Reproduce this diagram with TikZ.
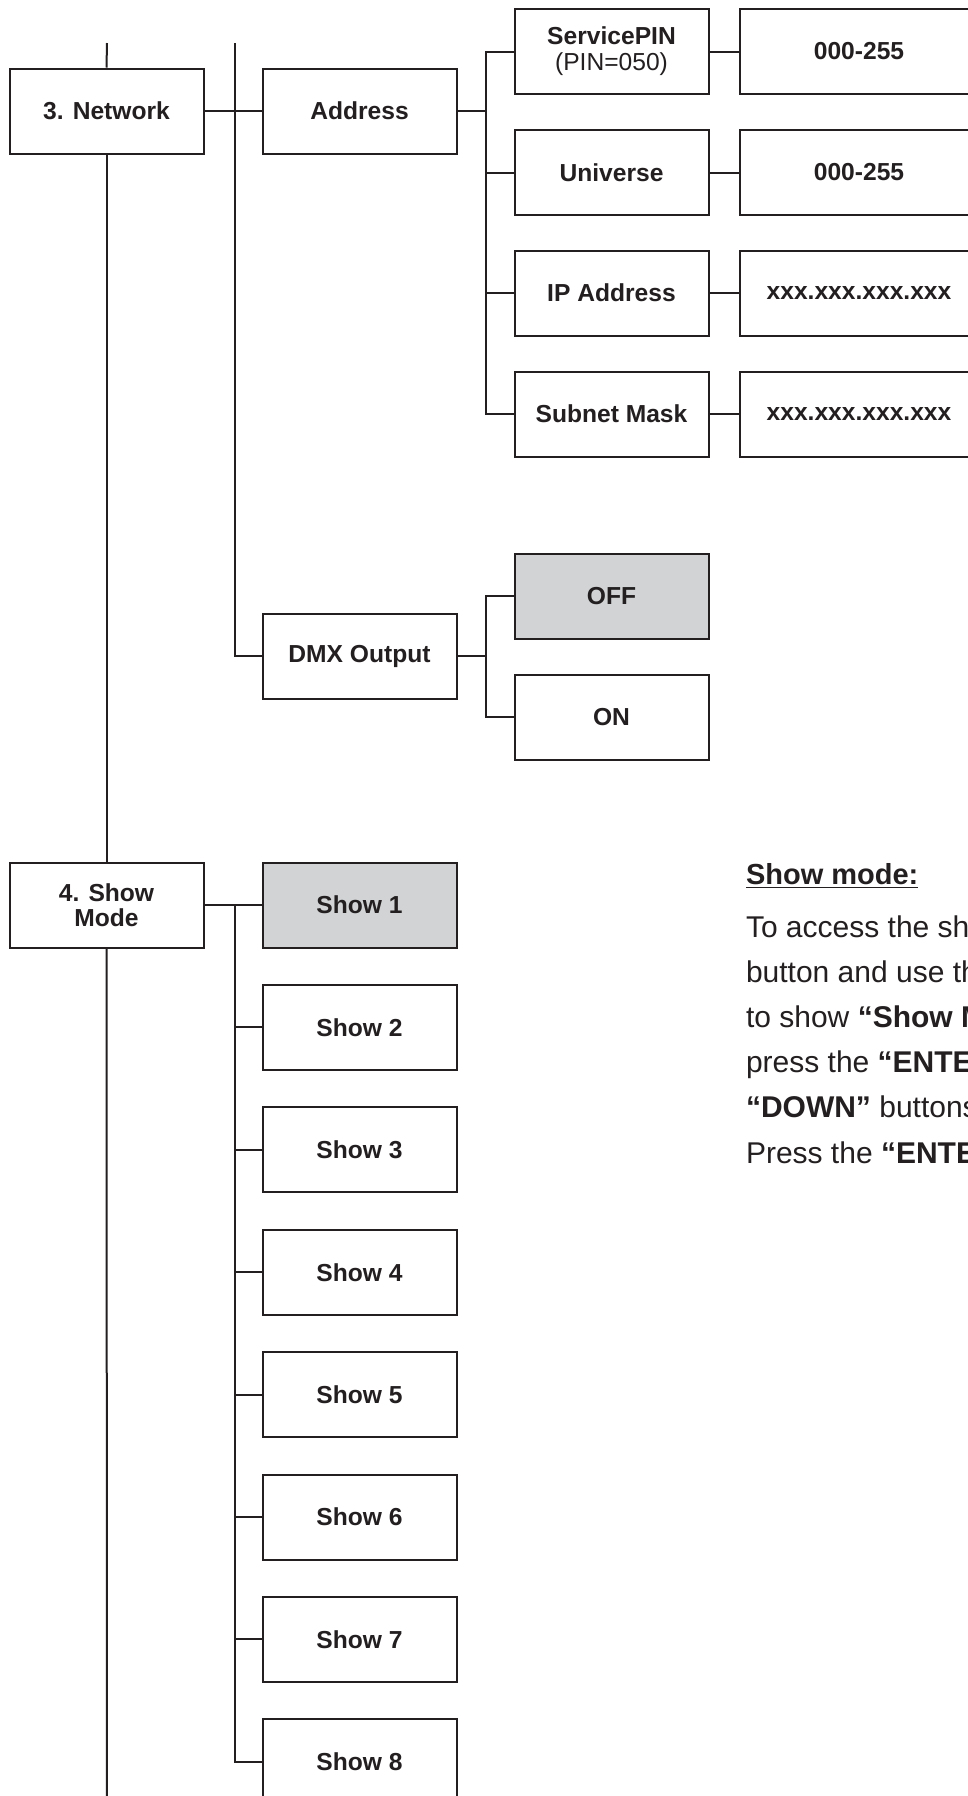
\documentclass[tikz,border=0pt]{standalone}
\usepackage{fontspec}
\setmainfont{Liberation Sans}
\usepackage{xcolor}
\usepackage{tikz}

\definecolor{ink}{HTML}{231F20}
\definecolor{selgray}{HTML}{D1D3D4}

\begin{document}
\begin{tikzpicture}[x=0.5pt, y=-0.5pt, line width=1pt,
    menubox/.style={draw=ink, fill=white, text=ink, minimum width=97pt, minimum height=42.5pt,
        inner sep=0pt, align=center, font=\bfseries\fontsize{12.3}{13}\selectfont},
    valbox/.style={menubox, minimum width=119pt},
    chosen/.style={fill=selgray},
    bodytext/.style={anchor=base west, inner sep=0pt, text=ink, font=\fontsize{15}{17}\selectfont}]
    \useasboundingbox (0,0) rectangle (968,1796);
    \clip (0,0) rectangle (968,1796);

    % main menu
    \node[menubox] (net) at (106.5,111) {3. Network};
    \node[menubox] (mode) at (106.5,905) {4. Show\\[-0.5pt]Mode};
    \coordinate (ttop) at (107,43);
    \coordinate (tbot) at (107,1800);
    \draw[ink] (ttop) -- (net.north);
    \draw[ink] (net.south) -- (mode.north);
    \draw[ink] (mode.south) -- (tbot);

    % network
    \node[menubox] (addr) at (359.5,111) {Address};
    \node[menubox] (dmx) at (359.5,656) {DMX Output};
    \coordinate (mtop) at (235,43);
    \draw[ink] (net.east) -- (addr.west);
    \draw[ink] (mtop) |- (dmx.west);

    \node[menubox] (pin) at (611.5,51.5) {ServicePIN\\{\mdseries (PIN=050)}};
    \node[menubox] (univ) at (611.5,172.5) {Universe};
    \node[menubox] (ip) at (611.5,293) {IP Address};
    \node[menubox] (mask) at (611.5,414) {Subnet Mask};
    \node[valbox] (pinv) at (859,51.5) {000-255};
    \node[valbox] (univv) at (859,172.5) {000-255};
    \node[valbox] (ipv) at (859,293) {xxx.xxx.xxx.xxx};
    \node[valbox] (maskv) at (859,414) {xxx.xxx.xxx.xxx};
    \coordinate (abus) at (486,111);
    \draw[ink] (addr.east) -- (abus);
    \draw[ink] (pin.west) -| (abus) |- (mask.west);
    \draw[ink] (univ.west) -- (univ.west -| abus);
    \draw[ink] (ip.west) -- (ip.west -| abus);
    \foreach \n in {pin,univ,ip,mask}
        \draw[ink] (\n.east) -- (\n v.west);

    \node[menubox, chosen] (off) at (611.5,596) {OFF};
    \node[menubox] (on) at (611.5,717) {ON};
    \coordinate (dbus) at (486,656);
    \draw[ink] (dmx.east) -- (dbus);
    \draw[ink] (off.west) -| (dbus) |- (on.west);

    % show mode
    \node[menubox, chosen] (s1) at (359.5,905) {Show 1};
    \foreach \i in {2,...,8}
        \node[menubox] (s\i) at (359.5,{905+122.4*(\i-1)}) {Show \i};
    \coordinate (sbus) at (235,905);
    \draw[ink] (mode.east) -- (s1.west);
    \draw[ink] (sbus) |- (s8.west);
    \foreach \i in {2,...,7}
        \draw[ink] (s\i.west) -- (s\i.west -| sbus);

    % note
    \node[bodytext, font=\bfseries\fontsize{14.5}{17}\selectfont] (title) at (745,884) {\underline{Show mode:}};
    \foreach \t [count=\k] in {To access the show, button and use the,
        to show \textbf{“Show Mode”}, press the \textbf{“ENTER”},
        \textbf{“DOWN”} buttons, Press the \textbf{“ENTER”}}
        \node[bodytext] (line\k) at (745,{937+45.2*(\k-1)}) {\t};
\end{tikzpicture}
\end{document}
